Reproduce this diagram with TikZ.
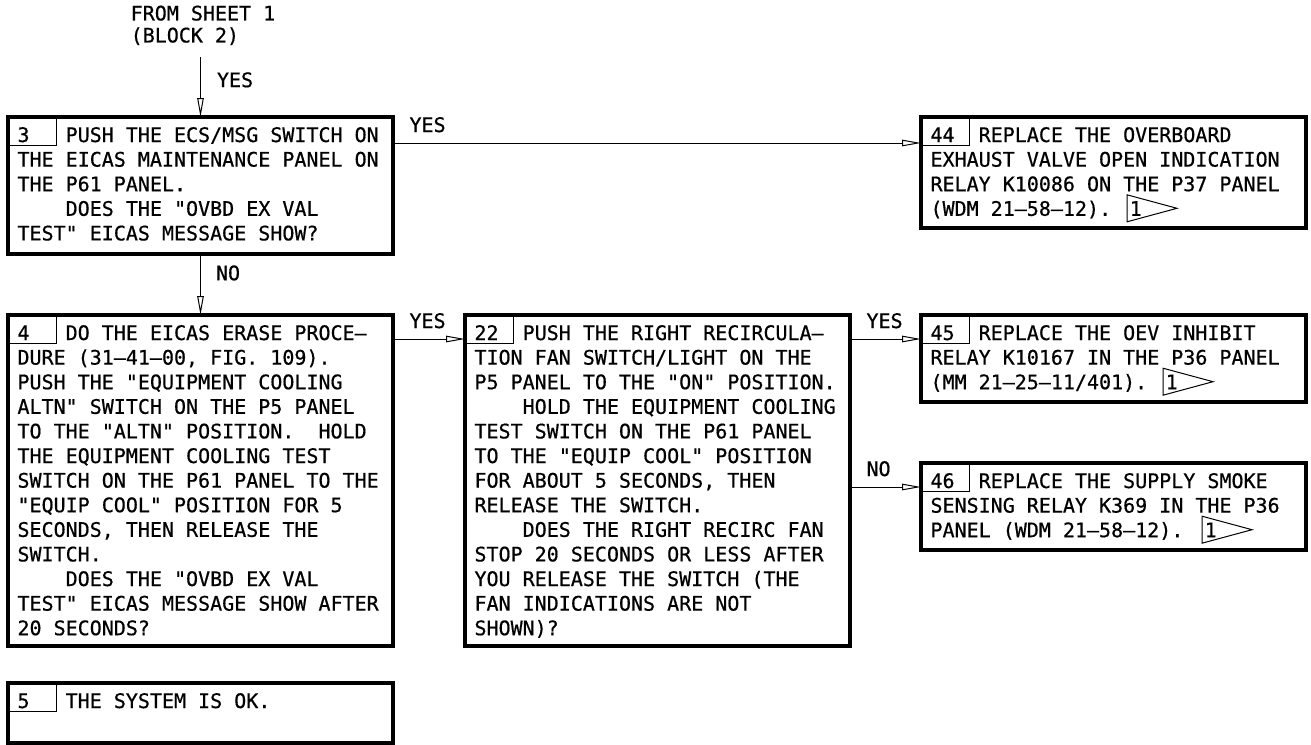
\documentclass[tikz,border=0pt]{standalone}
\usepackage{fontspec}
\usepackage{tikz}
\usetikzlibrary{arrows.meta, calc}
\newfontfamily\diafont[FakeBold=0.6]{DejaVu Sans Mono}
\newcommand\blockno[1]{\rlap{#1}\phantom{MMMM}}
\newcommand\ind{\phantom{MMMM}}

\begin{document}
\begin{tikzpicture}[x=1pt, y=1pt,
        box/.style={rectangle, draw, line width=3.2pt, anchor=north west, outer sep=0pt, inner xsep=9.5pt, inner ysep=0pt, text width=366pt, text height=25pt, align=flush left, font=\diafont\fontsize{20}{24.6}\selectfont\frenchspacing},
        tab/.style={line width=1pt},
        src/.style={anchor=north west, inner sep=0pt, align=flush left, font=\diafont\fontsize{20}{22}\selectfont},
        lbl/.style={anchor=base west, inner sep=0pt, font=\diafont\fontsize{20}{24}\selectfont},
        flagno/.style={anchor=base west, inner sep=0pt, font=\diafont\fontsize{20}{24}\selectfont},
        flag/.style={line width=1pt, line join=miter},
        msg/.style={line width=1pt, -{Triangle[open, length=19pt, width=6.5pt]}}
    ]
        \path[use as bounding box, fill=white] (0,0) rectangle (1311,-744);

        % Entry
        \node[src] (src) at (130.5,-5.4) {FROM SHEET 1\\(BLOCK 2)};

        % Blocks
        \node[box, text depth=112pt] (b3) at (8,-117) {\blockno{3}PUSH THE ECS/MSG SWITCH ON\\
            THE EICAS MAINTENANCE PANEL ON\\
            THE P61 PANEL.\\
            \ind DOES THE "OVBD EX VAL\\
            TEST" EICAS MESSAGE SHOW?};
        \node[box, text depth=86pt] (b44) at (921,-117) {\blockno{44}REPLACE THE OVERBOARD\\
            EXHAUST VALVE OPEN INDICATION\\
            RELAY K10086 ON THE P37 PANEL\\
            (WDM 21–58–12).};
        \node[box, text depth=306pt] (b4) at (8,-315) {\blockno{4}DO THE EICAS ERASE PROCE–\\
            DURE (31–41–00, FIG. 109).\\
            PUSH THE "EQUIPMENT COOLING\\
            ALTN" SWITCH ON THE P5 PANEL\\
            TO THE "ALTN" POSITION.~ HOLD\\
            THE EQUIPMENT COOLING TEST\\
            SWITCH ON THE P61 PANEL TO THE\\
            "EQUIP COOL" POSITION FOR 5\\
            SECONDS, THEN RELEASE THE\\
            SWITCH.\\
            \ind DOES THE "OVBD EX VAL\\
            TEST" EICAS MESSAGE SHOW AFTER\\
            20 SECONDS?};
        \node[box, text depth=306pt] (b22) at (465,-315) {\blockno{22}PUSH THE RIGHT RECIRCULA–\\
            TION FAN SWITCH/LIGHT ON THE\\
            P5 PANEL TO THE "ON" POSITION.\\
            \ind HOLD THE EQUIPMENT COOLING\\
            TEST SWITCH ON THE P61 PANEL\\
            TO THE "EQUIP COOL" POSITION\\
            FOR ABOUT 5 SECONDS, THEN\\
            RELEASE THE SWITCH.\\
            \ind DOES THE RIGHT RECIRC FAN\\
            STOP 20 SECONDS OR LESS AFTER\\
            YOU RELEASE THE SWITCH (THE\\
            FAN INDICATIONS ARE NOT\\
            SHOWN)?};
        \node[box, text depth=62pt] (b45) at (921,-315) {\blockno{45}REPLACE THE OEV INHIBIT\\
            RELAY K10167 IN THE P36 PANEL\\
            (MM 21–25–11/401).};
        \node[box, text depth=62pt] (b46) at (921,-463) {\blockno{46}REPLACE THE SUPPLY SMOKE\\
            SENSING RELAY K369 IN THE P36\\
            PANEL (WDM 21–58–12).};
        \node[box, text depth=35pt] (b5) at (8,-683) {\blockno{5}THE SYSTEM IS OK.};

        % Number tabs
        \draw[tab] (b3.north west) rectangle ++(48.5,-28);
        \draw[tab] (b44.north west) rectangle ++(48.5,-28);
        \draw[tab] (b4.north west) rectangle ++(48.5,-28);
        \draw[tab] (b22.north west) rectangle ++(48.5,-28);
        \draw[tab] (b45.north west) rectangle ++(48.5,-28);
        \draw[tab] (b46.north west) rectangle ++(48.5,-28);
        \draw[tab] (b5.north west) rectangle ++(48.5,-28);

        % Note flags
        \node[flagno] (fl44) at ($(b44.north west)+(208.5,-98.8)$) {1};
        \draw[flag] ($(fl44.base west)+(-2.5,-6)$) -- ++(0,27) -- ++(50,-13.5) -- cycle;
        \node[flagno] (fl45) at ($(b45.north west)+(244.5,-74.2)$) {1};
        \draw[flag] ($(fl45.base west)+(-2.5,-6)$) -- ++(0,27) -- ++(50,-13.5) -- cycle;
        \node[flagno] (fl46) at ($(b46.north west)+(283.5,-74.2)$) {1};
        \draw[flag] ($(fl46.base west)+(-2.5,-6)$) -- ++(0,27) -- ++(50,-13.5) -- cycle;

        % Connectors
        \coordinate (a3) at ($(src.south -| b3.north)+(0,-12)$);
        \coordinate (a44) at ($(b44.north west)+(0,-26)$);
        \coordinate (a22) at ($(b22.north west)+(0,-24)$);
        \coordinate (a45) at ($(b45.north west)+(0,-24)$);
        \coordinate (a46) at ($(b46.north west)+(0,-24)$);

        \draw[msg] (a3) -- node[lbl, pos=.5, xshift=16pt] (y3) {YES} (b3.north);
        \draw[msg] (b3.east |- a44) -- node[lbl, pos=0, xshift=16pt, yshift=11pt] (y44) {YES} (a44);
        \draw[msg] (b3.south) -- node[lbl, pos=.43, xshift=15pt] (n4) {NO} (b4.north);
        \draw[msg] (b4.east |- a22) -- node[lbl, pos=0, xshift=16pt, yshift=11pt] (y22) {YES} (a22);
        \draw[msg] (b22.east |- a45) -- node[lbl, pos=0, xshift=16pt, yshift=11pt] (y45) {YES} (a45);
        \draw[msg] (b22.east |- a46) -- node[lbl, pos=0, xshift=16pt, yshift=11pt] (n46) {NO} (a46);
    \end{tikzpicture}
\end{document}
